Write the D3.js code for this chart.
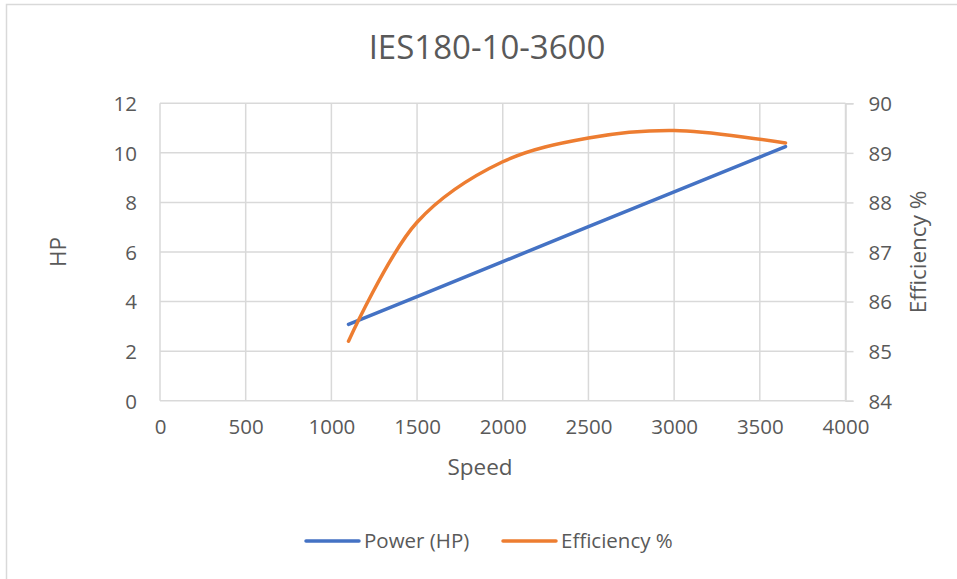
<!DOCTYPE html>
<html>
<head>
<meta charset="utf-8">
<script src="https://cdn.jsdelivr.net/npm/d3@7"></script>
<style>
  html, body { margin: 0; padding: 0; background: #fff; }
  svg { display: block; font-family: "Open Sans", "Noto Sans", sans-serif; }
</style>
</head>
<body>
<svg id="chart" width="957" height="579"></svg>
<script>
const title = "IES180-10-3600";
const speed = [1100, 1500, 2000, 2500, 3000, 3650];
const powerHP = [3.08, 4.2, 5.61, 7.02, 8.43, 10.25];
const efficiency = [85.2, 87.6, 88.82, 89.3, 89.45, 89.2];
const xTicks = [0, 500, 1000, 1500, 2000, 2500, 3000, 3500, 4000];
const hpTicks = [0, 2, 4, 6, 8, 10, 12];
const effTicks = [84, 85, 86, 87, 88, 89, 90];
const seriesNames = ["Power (HP)", "Efficiency %"];
const seriesColors = ["#4472C4", "#ED7D31"];

const svg = d3.select("#chart");
const W = 957, H = 579;
const L = 160, R = 845.5, T = 103.3, B = 400.7;
const textColor = "#595959", gridColor = "#d9d9d9";
const tickFont = "20.5px";

svg.append("path").attr("d", `M6.5,${H} V4.5 H${W}`)
  .attr("fill", "none").attr("stroke", gridColor).attr("stroke-width", 1.5);

const x = d3.scaleLinear().domain([0, 4000]).range([L, R]);
const yL = d3.scaleLinear().domain([0, 12]).range([B, T]);
const yR = d3.scaleLinear().domain([84, 90]).range([B, T]);
const fmt = d3.format("d");

const g = svg.append("g");
g.selectAll("line.h").data(hpTicks).join("line")
  .attr("x1", L).attr("x2", R).attr("y1", d => yL(d)).attr("y2", d => yL(d))
  .attr("stroke", gridColor).attr("stroke-width", 1.5);
g.selectAll("line.v").data(xTicks).join("line")
  .attr("x1", d => x(d)).attr("x2", d => x(d)).attr("y1", T).attr("y2", B)
  .attr("stroke", gridColor).attr("stroke-width", 1.5);

const axL = svg.append("g").attr("transform", `translate(${L},0)`)
  .call(d3.axisLeft(yL).tickValues(hpTicks).tickFormat(fmt).tickSize(0).tickPadding(23));
axL.select(".domain").remove();
axL.selectAll("text").attr("fill", textColor).style("font-size", tickFont)
  .style("font-family", "'Open Sans', sans-serif").attr("dy", "0.36em");

const axB = svg.append("g").attr("transform", `translate(0,${B})`)
  .call(d3.axisBottom(x).tickValues(xTicks).tickFormat(fmt).tickSize(0).tickPadding(19));
axB.select(".domain").remove();
axB.selectAll("text").attr("fill", textColor).style("font-size", tickFont)
  .style("font-family", "'Open Sans', sans-serif");

const axR = svg.append("g").attr("transform", `translate(${R},0)`)
  .call(d3.axisRight(yR).tickValues(effTicks).tickFormat(fmt).tickSize(8).tickPadding(15));
axR.select(".domain").attr("stroke", gridColor).attr("stroke-width", 1.5);
axR.selectAll(".tick line").attr("stroke", gridColor).attr("stroke-width", 1.5);
axR.selectAll("text").attr("fill", textColor).style("font-size", tickFont)
  .style("font-family", "'Open Sans', sans-serif").attr("dy", "0.36em");

svg.append("text").attr("x", 487).attr("y", 59).attr("text-anchor", "middle")
  .attr("fill", textColor).style("font-size", "33px").text(title);

svg.append("text").attr("x", 480).attr("y", 475).attr("text-anchor", "middle")
  .attr("fill", textColor).style("font-size", "22.5px").text("Speed");
svg.append("text").attr("transform", "translate(66,252) rotate(-90)").attr("text-anchor", "middle")
  .attr("fill", textColor).style("font-size", "22.5px").text("HP");
svg.append("text").attr("transform", "translate(926,252) rotate(-90)").attr("text-anchor", "middle")
  .attr("fill", textColor).style("font-size", "22.5px").text("Efficiency %");

const pts = speed.map((s, i) => ({s, p: powerHP[i], e: efficiency[i]}));
svg.append("path").datum(pts)
  .attr("d", d3.line().x(d => x(d.s)).y(d => yL(d.p)))
  .attr("fill", "none").attr("stroke", seriesColors[0]).attr("stroke-width", 3.5)
  .attr("stroke-linecap", "round");
svg.append("path").datum(pts)
  .attr("d", d3.line().x(d => x(d.s)).y(d => yR(d.e)).curve(d3.curveCatmullRom.alpha(0.5)))
  .attr("fill", "none").attr("stroke", seriesColors[1]).attr("stroke-width", 3.5)
  .attr("stroke-linecap", "round");

const legX = [306, 503];
seriesNames.forEach((n, i) => {
  svg.append("line").attr("x1", legX[i]).attr("x2", legX[i] + 53)
    .attr("y1", 541).attr("y2", 541).attr("stroke", seriesColors[i])
    .attr("stroke-width", 3.5).attr("stroke-linecap", "round");
  svg.append("text").attr("x", legX[i] + 58).attr("y", 548)
    .attr("fill", textColor).style("font-size", "20.5px").text(n);
});
</script>
</body>
</html>
